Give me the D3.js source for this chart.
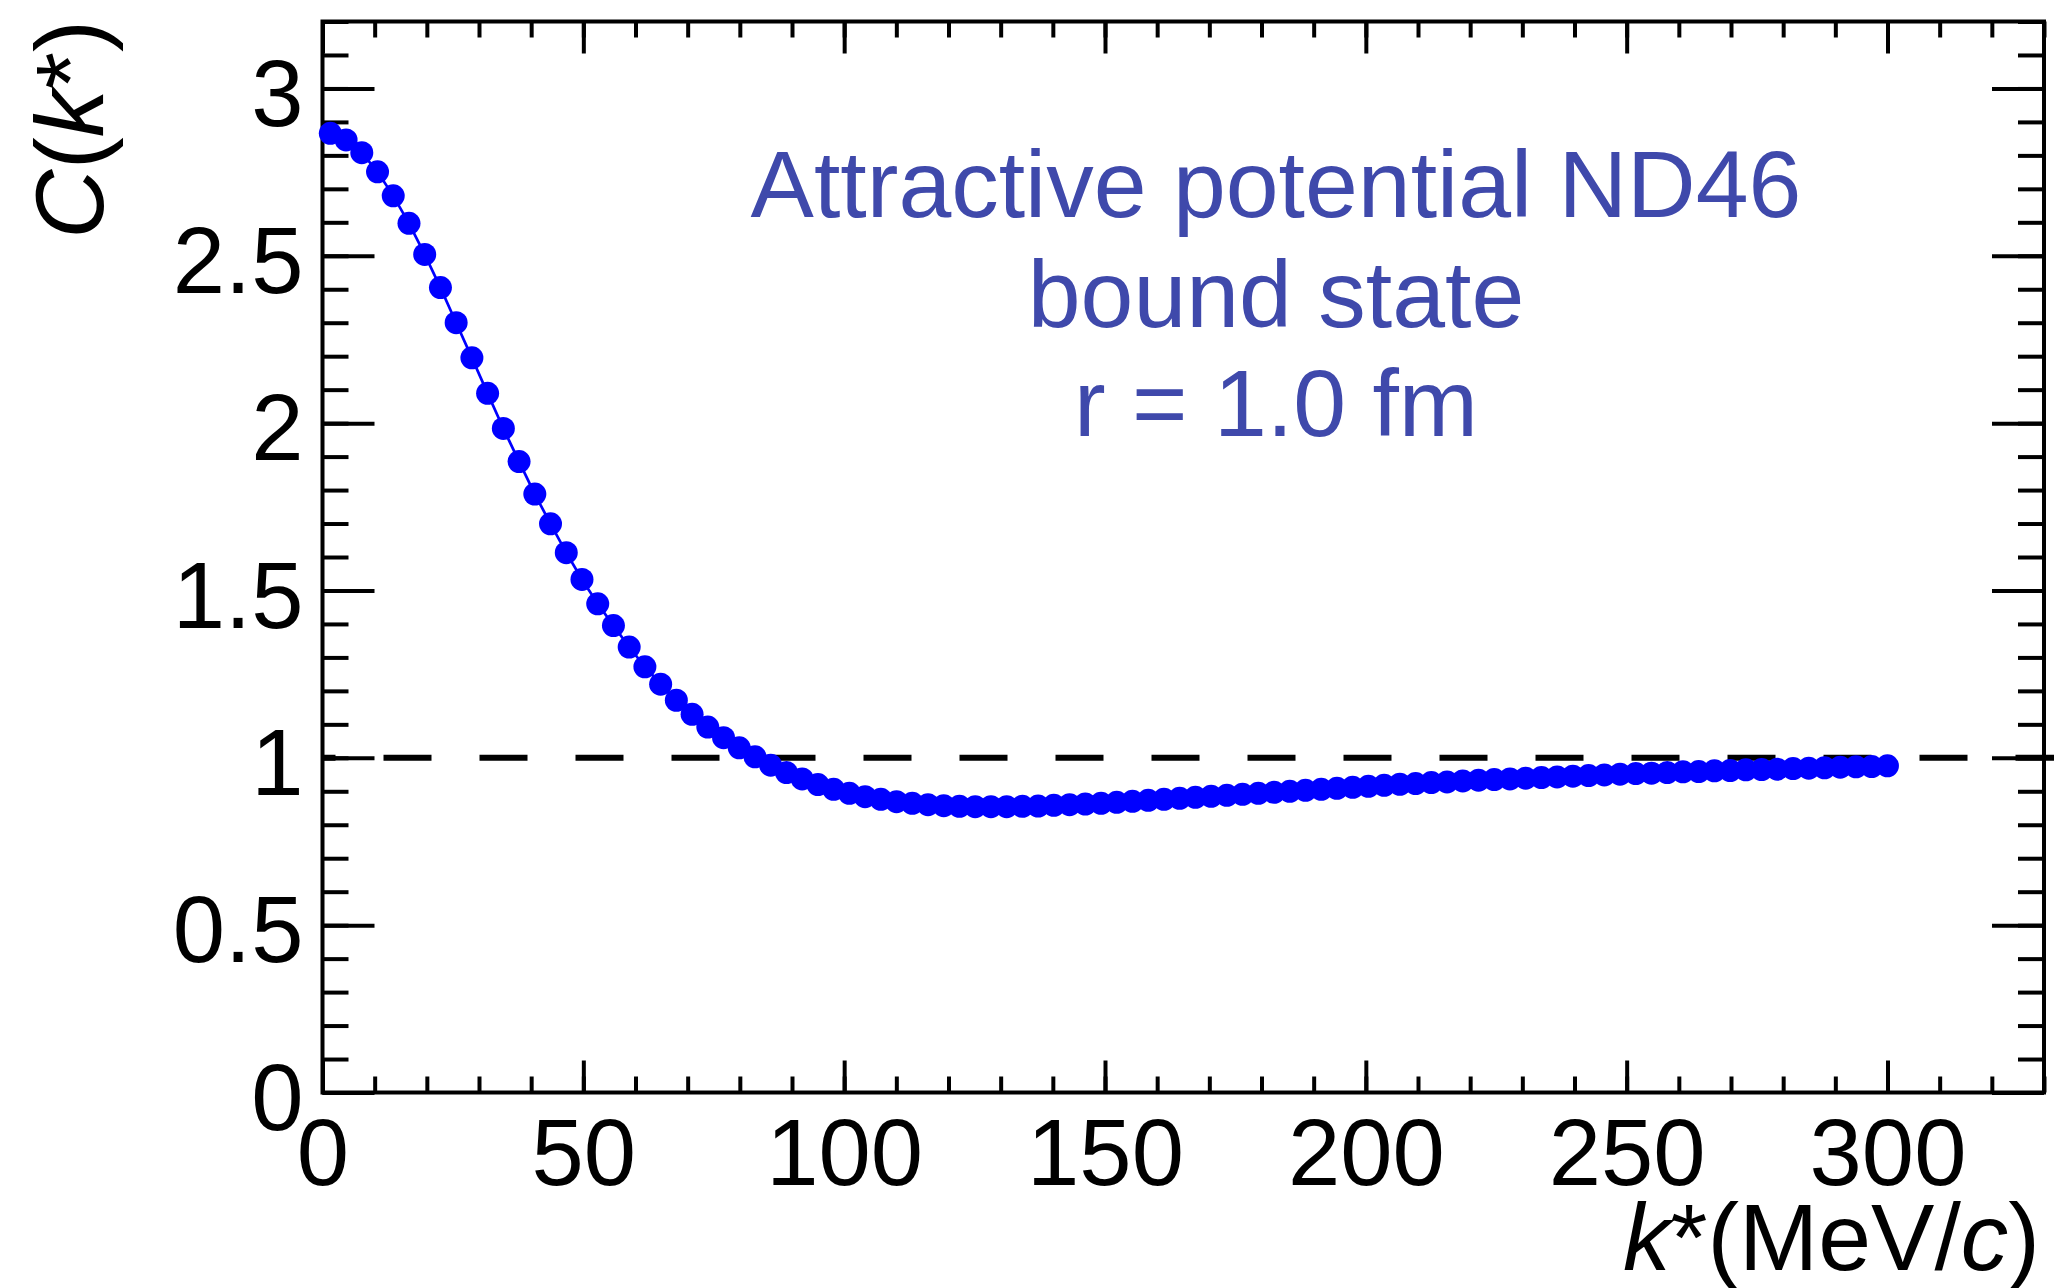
<!DOCTYPE html>
<html>
<head>
<meta charset="utf-8">
<script src="https://cdn.jsdelivr.net/npm/d3@7"></script>
<style>
  html, body { margin: 0; padding: 0; background: #ffffff; }
  svg { display: block; }
  text { font-family: "Liberation Sans", Arial, Helvetica, sans-serif; }
</style>
</head>
<body>
<svg id="chart" width="2054" height="1288"></svg>
<script>
// Relative momentum k* (MeV/c) of each computed point
const kStar = [
  1.50, 4.52, 7.53, 10.55, 13.56, 16.58, 19.59, 22.61, 25.62, 28.64,
  31.65, 34.67, 37.68, 40.70, 43.71, 46.73, 49.74, 52.76, 55.77, 58.79,
  61.80, 64.82, 67.83, 70.85, 73.86, 76.88, 79.89, 82.91, 85.92, 88.94,
  91.95, 94.97, 97.98, 101.00, 104.01, 107.03, 110.04, 113.06, 116.07, 119.09,
  122.10, 125.12, 128.13, 131.15, 134.16, 137.18, 140.19, 143.21, 146.22, 149.24,
  152.25, 155.27, 158.28, 161.30, 164.31, 167.33, 170.34, 173.36, 176.37, 179.39,
  182.40, 185.42, 188.43, 191.45, 194.46, 197.48, 200.49, 203.51, 206.52, 209.54,
  212.55, 215.57, 218.58, 221.60, 224.61, 227.63, 230.64, 233.66, 236.67, 239.69,
  242.70, 245.72, 248.73, 251.75, 254.76, 257.78, 260.79, 263.81, 266.82, 269.84,
  272.85, 275.87, 278.88, 281.90, 284.91, 287.93, 290.94, 293.96, 296.97, 299.99
];

// Correlation function C(k*)
const correlation = [
  2.866, 2.846, 2.808, 2.751, 2.679, 2.597, 2.504, 2.405, 2.300, 2.195,
  2.089, 1.984, 1.885, 1.788, 1.699, 1.613, 1.533, 1.460, 1.395, 1.331,
  1.272, 1.220, 1.172, 1.130, 1.092, 1.060, 1.030, 1.003, 0.978, 0.956,
  0.937, 0.920, 0.906, 0.894, 0.884, 0.876, 0.869, 0.864, 0.860, 0.857,
  0.855, 0.854, 0.854, 0.854, 0.855, 0.856, 0.858, 0.860, 0.862, 0.864,
  0.867, 0.870, 0.873, 0.876, 0.879, 0.882, 0.885, 0.888, 0.891, 0.894,
  0.897, 0.900, 0.903, 0.906, 0.909, 0.912, 0.915, 0.918, 0.921, 0.923,
  0.926, 0.928, 0.931, 0.933, 0.935, 0.937, 0.939, 0.941, 0.943, 0.945,
  0.947, 0.949, 0.951, 0.953, 0.954, 0.956, 0.958, 0.959, 0.961, 0.962,
  0.964, 0.965, 0.966, 0.968, 0.969, 0.970, 0.972, 0.973, 0.974, 0.976
];

const xDomain = [0, 330];
const yDomain = [0, 3.2];

const xMajorTicks = [0, 50, 100, 150, 200, 250, 300];
const xTickLabels = ["0", "50", "100", "150", "200", "250", "300"];
const xMinorTicks = [0, 10, 20, 30, 40, 50, 60, 70, 80, 90, 100, 110, 120, 130, 140, 150,
  160, 170, 180, 190, 200, 210, 220, 230, 240, 250, 260, 270, 280, 290, 300, 310, 320, 330];

const yMajorTicks = [0, 0.5, 1, 1.5, 2, 2.5, 3];
const yTickLabels = ["0", "0.5", "1", "1.5", "2", "2.5", "3"];
const yMinorTicks = [0, 0.1, 0.2, 0.3, 0.4, 0.5, 0.6, 0.7, 0.8, 0.9, 1.0, 1.1, 1.2, 1.3, 1.4,
  1.5, 1.6, 1.7, 1.8, 1.9, 2.0, 2.1, 2.2, 2.3, 2.4, 2.5, 2.6, 2.7, 2.8, 2.9, 3.0, 3.1, 3.2];

// Unit reference level C = 1, drawn from k* = 0 past the frame edge
const referenceLine = [{ k: 0, c: 1 }, { k: 345, c: 1 }];

const annotationLines = ["Attractive potential ND46", "bound state", "r = 1.0 fm"];

// ---------------------------------------------------------------
const frame = { left: 322.5, right: 2044, top: 21.5, bottom: 1092.5 };
const svg = d3.select("#chart");

const x = d3.scaleLinear().domain(xDomain).range([frame.left, frame.right]);
const y = d3.scaleLinear().domain(yDomain).range([frame.bottom, frame.top]);

const axisStroke = 4;
const labelSize = 94;

function styleTicks(g) {
  g.select(".domain").remove();
  g.selectAll(".tick line").attr("stroke", "#000").attr("stroke-width", axisStroke);
}

// bottom axis: major ticks with labels, then minor ticks
svg.append("g")
  .attr("transform", `translate(0,${frame.bottom})`)
  .call(d3.axisBottom(x).tickValues(xMajorTicks).tickSizeInner(-32).tickSizeOuter(0)
    .tickPadding(26).tickFormat((d, i) => xTickLabels[i]))
  .call(styleTicks)
  .call(g => g.selectAll(".tick text")
    .attr("font-size", labelSize).attr("fill", "#000")
    .attr("font-family", "Liberation Sans, Arial, sans-serif"));

svg.append("g")
  .attr("transform", `translate(0,${frame.bottom})`)
  .call(d3.axisBottom(x).tickValues(xMinorTicks).tickSizeInner(-16).tickSizeOuter(0).tickFormat(""))
  .call(styleTicks);

// top axis (ticks only)
svg.append("g")
  .attr("transform", `translate(0,${frame.top})`)
  .call(d3.axisTop(x).tickValues(xMajorTicks).tickSizeInner(-32).tickSizeOuter(0).tickFormat(""))
  .call(styleTicks);
svg.append("g")
  .attr("transform", `translate(0,${frame.top})`)
  .call(d3.axisTop(x).tickValues(xMinorTicks).tickSizeInner(-16).tickSizeOuter(0).tickFormat(""))
  .call(styleTicks);

// left axis: major ticks with labels, then minor ticks
svg.append("g")
  .attr("transform", `translate(${frame.left},0)`)
  .call(d3.axisLeft(y).tickValues(yMajorTicks).tickSizeInner(-52).tickSizeOuter(0)
    .tickPadding(19).tickFormat((d, i) => yTickLabels[i]))
  .call(styleTicks)
  .call(g => g.selectAll(".tick text")
    .attr("font-size", labelSize).attr("fill", "#000").attr("dy", "0.39em")
    .attr("font-family", "Liberation Sans, Arial, sans-serif"));

svg.append("g")
  .attr("transform", `translate(${frame.left},0)`)
  .call(d3.axisLeft(y).tickValues(yMinorTicks).tickSizeInner(-26).tickSizeOuter(0).tickFormat(""))
  .call(styleTicks);

// right axis (ticks only)
svg.append("g")
  .attr("transform", `translate(${frame.right},0)`)
  .call(d3.axisRight(y).tickValues(yMajorTicks).tickSizeInner(-52).tickSizeOuter(0).tickFormat(""))
  .call(styleTicks);
svg.append("g")
  .attr("transform", `translate(${frame.right},0)`)
  .call(d3.axisRight(y).tickValues(yMinorTicks).tickSizeInner(-26).tickSizeOuter(0).tickFormat(""))
  .call(styleTicks);

// frame
svg.append("rect")
  .attr("x", frame.left).attr("y", frame.top)
  .attr("width", frame.right - frame.left).attr("height", frame.bottom - frame.top)
  .attr("fill", "none").attr("stroke", "#000").attr("stroke-width", axisStroke);

// dashed reference line at C = 1
svg.append("path")
  .datum(referenceLine)
  .attr("d", d3.line().x(d => x(d.k)).y(d => y(d.c)))
  .attr("fill", "none")
  .attr("stroke", "#000")
  .attr("stroke-width", 6)
  .attr("stroke-dasharray", "48 48")
  .attr("stroke-dashoffset", 35);

// data: connecting line and markers
const points = kStar.map((k, i) => ({ k, c: correlation[i] }));

svg.append("path")
  .datum(points)
  .attr("d", d3.line().x(d => x(d.k)).y(d => y(d.c)))
  .attr("fill", "none")
  .attr("stroke", "#0000ff")
  .attr("stroke-width", 2.7);

svg.append("g")
  .selectAll("circle")
  .data(points)
  .join("circle")
  .attr("cx", d => x(d.k))
  .attr("cy", d => y(d.c))
  .attr("r", 11.5)
  .attr("fill", "#0000ff");

// annotation
const annotation = svg.append("g")
  .attr("fill", "#3f49ab")
  .attr("font-size", 95)
  .attr("text-anchor", "middle");
const annotationBaselines = [217, 327, 436];
annotation.selectAll("text")
  .data(annotationLines)
  .join("text")
  .attr("x", 1276)
  .attr("y", (d, i) => annotationBaselines[i])
  .text(d => d);

// x-axis title: k*(MeV/c)
const xTitle = svg.append("text")
  .attr("x", 2040).attr("y", 1270)
  .attr("font-size", 95)
  .attr("text-anchor", "end")
  .attr("fill", "#000");
xTitle.append("tspan").attr("font-style", "italic").text("k");
xTitle.append("tspan").text("*(MeV/");
xTitle.append("tspan").attr("font-style", "italic").text("c");
xTitle.append("tspan").text(")");

// y-axis title: C(k*)
const yTitle = svg.append("text")
  .attr("transform", "translate(103,20) rotate(-90)")
  .attr("font-size", 96)
  .attr("text-anchor", "end")
  .attr("fill", "#000");
yTitle.append("tspan").attr("font-style", "italic").text("C");
yTitle.append("tspan").text("(");
yTitle.append("tspan").attr("font-style", "italic").text("k");
yTitle.append("tspan").text("*)");
</script>
</body>
</html>
